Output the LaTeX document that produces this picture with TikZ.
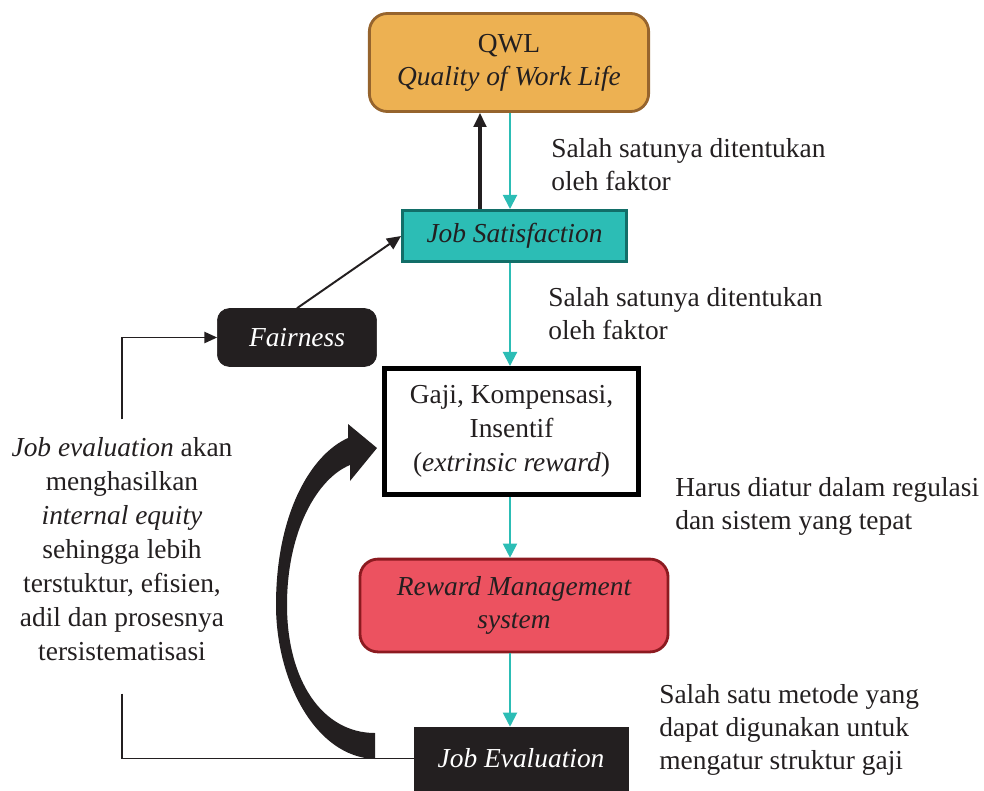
\documentclass[tikz,border=0pt]{standalone}
\usepackage{fontspec}
\setmainfont{Liberation Serif}
\usetikzlibrary{arrows.meta}

\definecolor{qwlfill}{RGB}{237,177,82}
\definecolor{qwlline}{RGB}{150,100,45}
\definecolor{jsfill}{RGB}{44,189,181}
\definecolor{jsline}{RGB}{18,110,104}
\definecolor{rmsfill}{RGB}{236,82,96}
\definecolor{rmsline}{RGB}{140,26,32}
\definecolor{boxblack}{RGB}{35,31,32}
\definecolor{flowteal}{RGB}{44,189,181}

\tikzset{
  box/.style={draw, align=center, inner sep=0pt},
  darkbox/.style={box, fill=boxblack, draw=boxblack, text=white, font=\fontsize{19.5pt}{23.5pt}\selectfont\itshape},
  tealflow/.style={draw=flowteal, line width=1.4pt, -{Triangle[length=10pt,width=10pt]}},
  blackflow/.style={draw=boxblack, line width=1.4pt, -{Triangle[length=10pt,width=9pt]}},
  thinline/.style={draw=boxblack, line width=1pt},
  note/.style={anchor=west, align=left, inner sep=0pt},
}

\begin{document}
\begin{tikzpicture}[x=0.025cm, y=-0.025cm, font=\fontsize{19.5pt}{23.5pt}\selectfont, text=boxblack]
	\useasboundingbox (0,0) rectangle (984,790);

	\node[box, fill=qwlfill, draw=qwlline, line width=2pt, rounded corners=0.45cm, minimum width=6.98cm, minimum height=2.45cm] (qwl) at (509,62.5) {QWL\\\textit{Quality of Work Life}};
	\node[box, fill=jsfill, draw=jsline, line width=2pt, minimum width=5.6cm, minimum height=1.28cm, font=\fontsize{19.5pt}{23.5pt}\selectfont\itshape] (js) at (514.5,236) {Job Satisfaction};
	\node[darkbox, rounded corners=0.3cm, minimum width=3.98cm, minimum height=1.45cm] (fair) at (297,337.5) {Fairness};
	\node[box, fill=white, line width=3.5pt, minimum width=6.35cm, minimum height=3.15cm, font=\fontsize{19.5pt}{24pt}\selectfont] (gaji) at (511.5,431.5) {Gaji, Kompensasi,\\Insentif\\(\textit{extrinsic reward})};
	\node[box, fill=rmsfill, draw=rmsline, line width=2pt, rounded corners=0.45cm, minimum width=7.7cm, minimum height=2.32cm, font=\fontsize{19.5pt}{24pt}\selectfont\itshape] (rms) at (514,605.5) {Reward Management\\system};
	\node[darkbox, minimum width=5.35cm, minimum height=1.575cm] (je) at (521,758.5) {Job Evaluation};

	\node[box, draw=none, font=\fontsize{19.5pt}{24.2pt}\selectfont] (evtext) at (122,549.5) {\textit{Job evaluation} akan\\menghasilkan\\\textit{internal equity}\\sehingga lebih\\terstuktur, efisien,\\adil dan prosesnya\\tersistematisasi};

	\node[note] (note1) at (551,164.5) {Salah satunya ditentukan\\oleh faktor};
	\node[note] (note2) at (548,314) {Salah satunya ditentukan\\oleh faktor};
	\node[note] (note3) at (675,506) {Harus diatur dalam regulasi\\dan sistem yang tepat};
	\node[note] (note4) at (659,729.5) {Salah satu metode yang\\dapat digunakan untuk\\mengatur struktur gaji};

	\coordinate (axis) at (510,0);
	\coordinate (upline) at (480,0);

	\draw[tealflow] (axis |- qwl.south) -- (axis |- js.north);
	\draw[tealflow] (axis |- js.south) -- (axis |- gaji.north);
	\draw[tealflow] (axis |- gaji.south) -- (axis |- rms.north);
	\draw[tealflow] (axis |- rms.south) -- (axis |- je.north);
	\draw[blackflow, line width=2.2pt] (upline |- js.north) -- (upline |- qwl.south);
	\draw[blackflow] (fair.north) -- (js.west);
	\draw[thinline, -{Triangle[length=9pt,width=8pt]}] ([yshift=0.45cm]evtext.north) |- (fair.west);
	\draw[thinline] ([yshift=-0.8cm]evtext.south) |- (je.west);

	\fill[boxblack] (375,759) .. controls (315,757) and (276,680) .. (276,605)
		.. controls (276,515) and (310,455) .. (348,438) -- (348,424) -- (377,448) -- (350,481) -- (350,465)
		.. controls (318,478) and (287,530) .. (287,605)
		.. controls (287,680) and (322,733) .. (375,733) -- cycle;
\end{tikzpicture}
\end{document}
